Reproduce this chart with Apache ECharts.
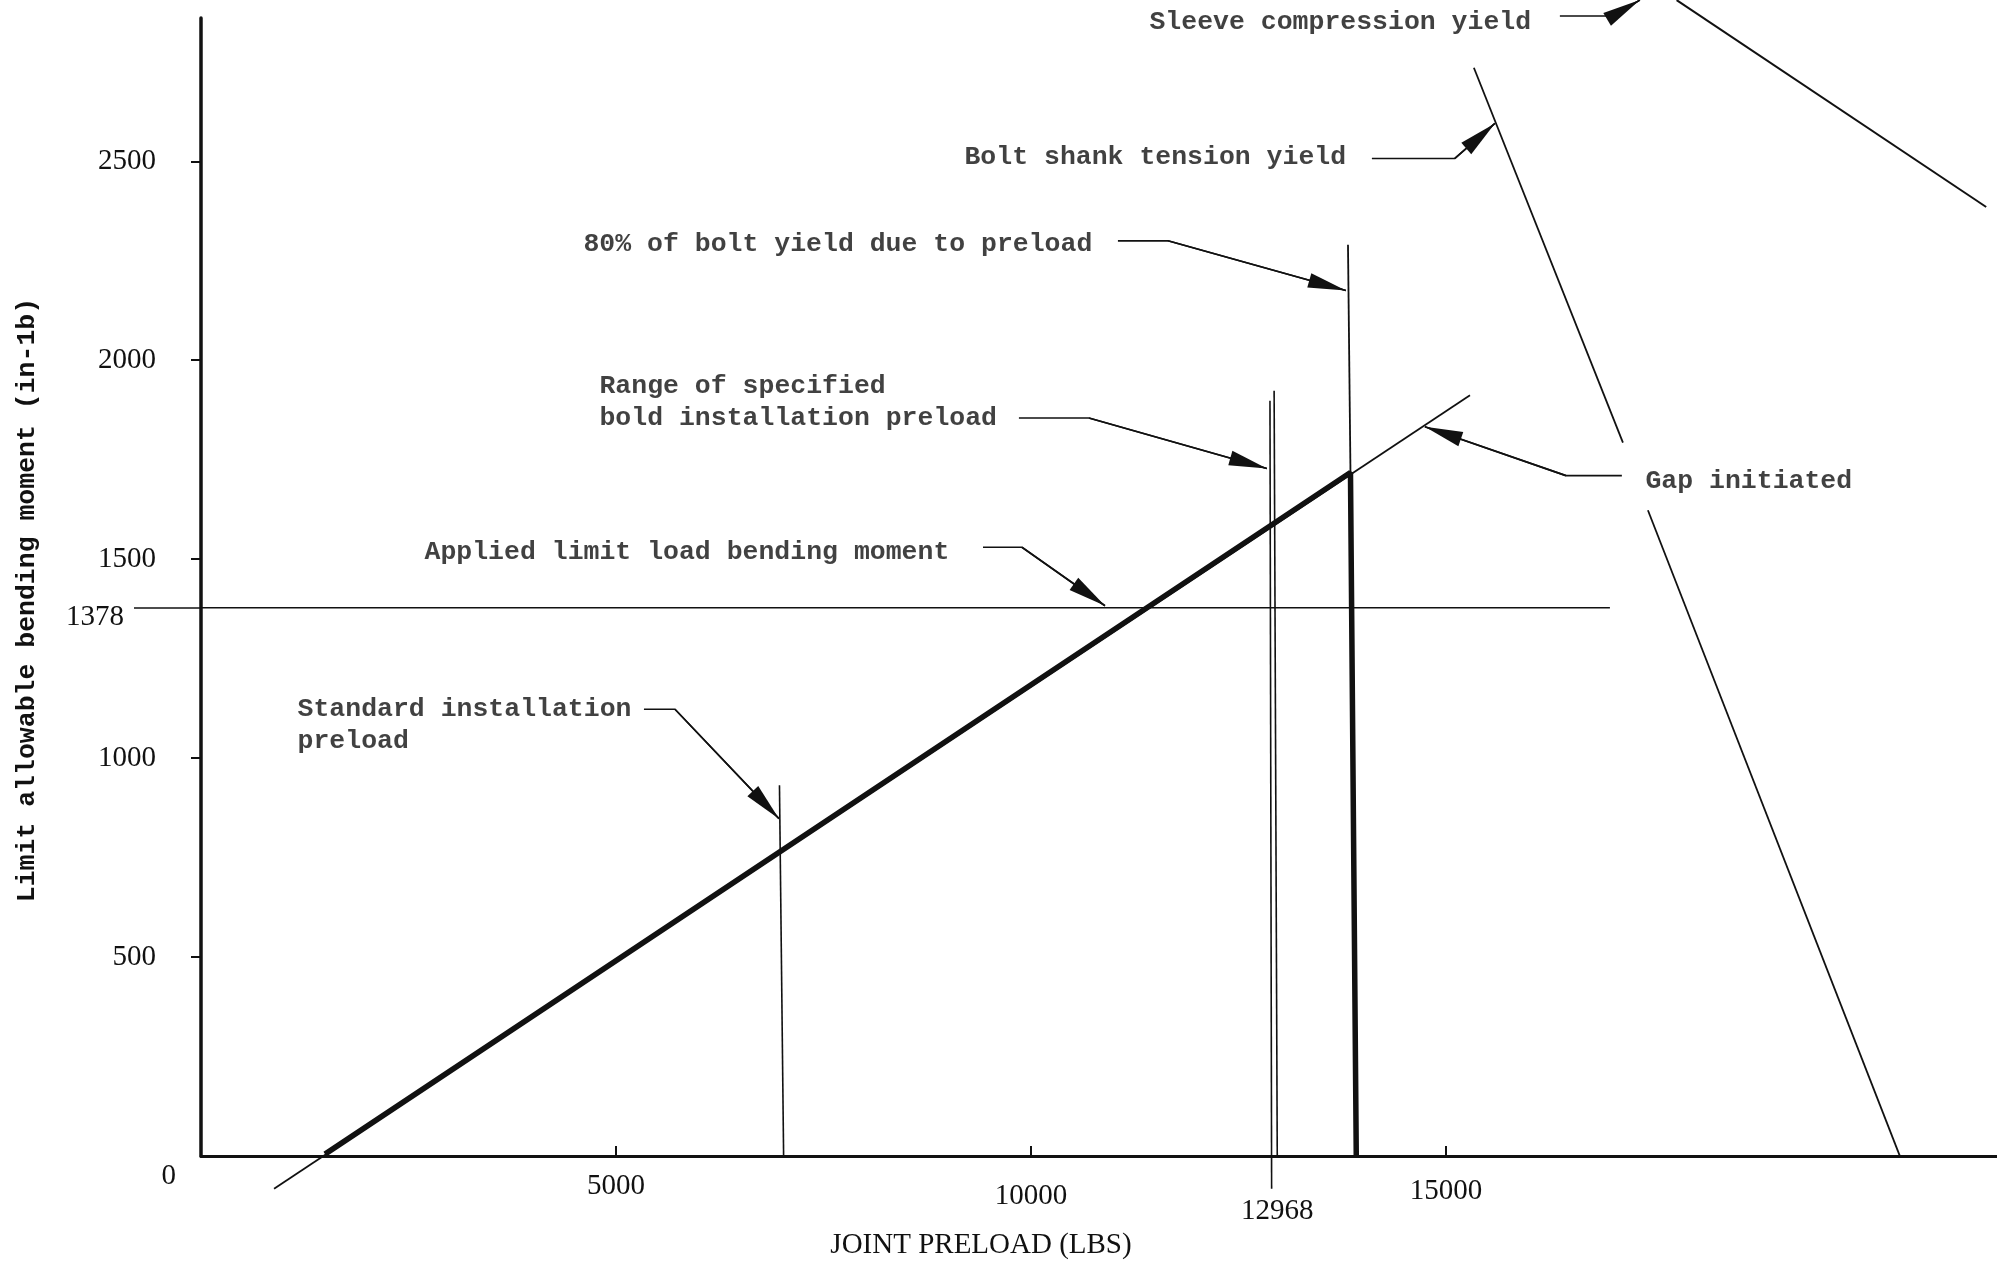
<!DOCTYPE html>
<html>
<head>
<meta charset="utf-8">
<script src="https://cdn.jsdelivr.net/npm/echarts@6/dist/echarts.min.js"></script>
<style>html,body{margin:0;padding:0;background:#fff}#chart{width:1997px;height:1265px}</style>
</head>
<body>
<div id="chart"></div>
<script>
// ---- axis ticks / labels ----
const xTickValues = [5000, 10000, 15000];
const xTickLabels = [5000, 10000, 12968, 15000];
const yTickValues = [500, 1000, 1500, 2000, 2500];
const yTickLabels = [0, 500, 1000, 1500, 2000, 2500];
const limitTickLabels = [1378];

// ---- curves [joint preload (lbs), bending moment (in-lb)] ----
const allowableMoment = [[1494, 5], [13850, 1718], [13920, 0]];
const gapInitiated = [[880, -82], [15290, 1912]];
const standardPreload = [[6970, 932], [7020, 0]];
const rangeLow = [[12880, 1898], [12900, -82]];
const rangeHigh = [[12930, 1923], [12968, 0]];
const boltYield80 = [[13820, 2290], [13850, 1718]];
const limitLoad = [[0, 1378], [16976, 1378]];
const boltShankUpper = [[15337, 2735], [17133, 1793]];
const boltShankLower = [[17434, 1623], [20470, 0]];
const sleeveYield = [[17780, 2905], [21510, 2385]];

// ---- annotations ----
const noteTexts = [
  'Sleeve compression yield',
  'Bolt shank tension yield',
  '80% of bolt yield due to preload',
  'Range of specified\nbold installation preload',
  'Applied limit load bending moment',
  'Standard installation\npreload',
  'Gap initiated'
];
const noteAnchors = [[11422, 2848], [9193, 2510], [4602, 2290], [4795, 1893], [2687, 1518], [1157, 1083], [17398, 1695]];
const noteLeaders = [
  [[16373, 2865], [17012, 2865], [17337, 2905]],
  [[14108, 2507], [15108, 2507], [15590, 2595]],
  [[11048, 2300], [11651, 2300], [13795, 2175]],
  [[9855, 1855], [10699, 1855], [12843, 1728]],
  [[9422, 1530], [9892, 1530], [10892, 1383]],
  [[5337, 1123], [5711, 1123], [6964, 848]],
  [[17120, 1710], [16446, 1710], [14747, 1833]]
];

const INK = '#111111';
const MONO = '"Liberation Mono", "DejaVu Sans Mono", monospace';
const SERIF = '"Liberation Serif", "DejaVu Serif", serif';
const ARROW = 'path://M10,0M10,100L0,200L20,200Z';

function curve(name, data, width) {
  return {
    type: 'line', name: name, data: data, showSymbol: false, symbol: 'none',
    clip: false, silent: true, animation: false, z: 3,
    lineStyle: { color: INK, width: width }
  };
}

const serifLabel = { fontFamily: SERIF, fontSize: 29, color: INK };

const option = {
  backgroundColor: '#ffffff',
  animation: false,
  grid: { left: 201, right: 0, top: 18, bottom: 103, containLabel: false },
  xAxis: {
    type: 'value', min: 0, max: 21640,
    axisLine: { show: true, onZero: false, lineStyle: { color: INK, width: 3 } },
    splitLine: { show: false },
    axisTick: { show: true, inside: true, length: 10, customValues: xTickValues, lineStyle: { color: INK, width: 2 } },
    axisLabel: {
      customValues: xTickLabels, margin: 16,
      formatter: function (v) { return '{x' + xTickLabels.indexOf(v) + '|' + v + '}'; },
      rich: {
        x0: Object.assign({ padding: [0, 0, 0, 0] }, serifLabel),
        x1: Object.assign({ padding: [10, 0, 0, 0] }, serifLabel),
        x2: Object.assign({ padding: [25, 0, 0, 0] }, serifLabel),
        x3: Object.assign({ padding: [5, 0, 0, 0] }, serifLabel)
      }
    },
    name: 'JOINT PRELOAD (LBS)', nameLocation: 'middle', nameGap: 68,
    nameTextStyle: { fontFamily: SERIF, fontSize: 29, color: INK, padding: [0, 236, 0, 0] }
  },
  yAxis: [{
    type: 'value', min: 0, max: 2860,
    axisLine: { show: true, onZero: false, lineStyle: { color: INK, width: 3.5 } },
    splitLine: { show: false },
    axisTick: { show: true, inside: false, length: 10, customValues: yTickValues, lineStyle: { color: INK, width: 2 } },
    axisLabel: {
      customValues: yTickLabels, margin: 25,
      formatter: function (v) { return v === 0 ? '{z|0}' : '{n|' + v + '}'; },
      rich: {
        n: Object.assign({ padding: [0, 20, 0, 0] }, serifLabel),
        z: Object.assign({ padding: [40, 0, 0, 0] }, serifLabel)
      }
    },
    name: 'Limit allowable bending moment (in-1b)', nameLocation: 'middle', nameRotate: 90, nameGap: 160,
    nameTextStyle: { fontFamily: MONO, fontSize: 26.5, fontWeight: 'bold', color: INK, padding: [0, 26, 0, 0] }
  }, {
    type: 'value', min: 0, max: 2860, position: 'left', offset: 0,
    axisLine: { show: false },
    splitLine: { show: false },
    axisTick: { show: true, inside: false, length: 67, customValues: limitTickLabels, lineStyle: { color: INK, width: 1.6 } },
    axisLabel: {
      customValues: limitTickLabels, margin: 77,
      formatter: function (v) { return '{k|' + v + '}'; },
      rich: { k: Object.assign({ padding: [20, 0, 0, 0] }, serifLabel) }
    }
  }],
  series: [
    curve('Gap initiated', gapInitiated, 1.8),
    curve('Applied limit load bending moment', limitLoad, 1.6),
    curve('Standard installation preload', standardPreload, 1.6),
    curve('Range low', rangeLow, 1.6),
    curve('Range high', rangeHigh, 1.6),
    curve('80% of bolt yield', boltYield80, 1.8),
    curve('Bolt shank tension yield', boltShankUpper, 1.8),
    curve('Bolt shank tension yield', boltShankLower, 1.8),
    curve('Sleeve compression yield', sleeveYield, 2),
    curve('Limit allowable bending moment', allowableMoment, 5.5),
    {
      type: 'lines', coordinateSystem: 'cartesian2d', polyline: true, clip: false, silent: true,
      data: noteLeaders.map(function (p) { return { coords: p }; }),
      lineStyle: { color: INK, width: 1.6, opacity: 1 }, z: 4
    },
    {
      type: 'lines', coordinateSystem: 'cartesian2d', clip: false, silent: true,
      data: noteLeaders.map(function (p) { return { coords: p.slice(-2) }; }),
      symbol: ['none', ARROW], symbolSize: [[0, 0], [15, 76]],
      lineStyle: { color: INK, width: 1.6, opacity: 1 }, z: 4
    },
    {
      type: 'scatter', symbolSize: 1, silent: true, clip: false,
      itemStyle: { color: 'rgba(0,0,0,0)' },
      data: noteAnchors.map(function (p, i) { return { value: p, label: { formatter: noteTexts[i] } }; }),
      label: { show: true, position: 'right', distance: 0, color: INK, fontFamily: MONO, fontSize: 26.5, fontWeight: 'bold', lineHeight: 32 },
      z: 5
    }
  ]
};

const chart = echarts.init(document.getElementById('chart'));
chart.setOption(option);
</script>
</body>
</html>
